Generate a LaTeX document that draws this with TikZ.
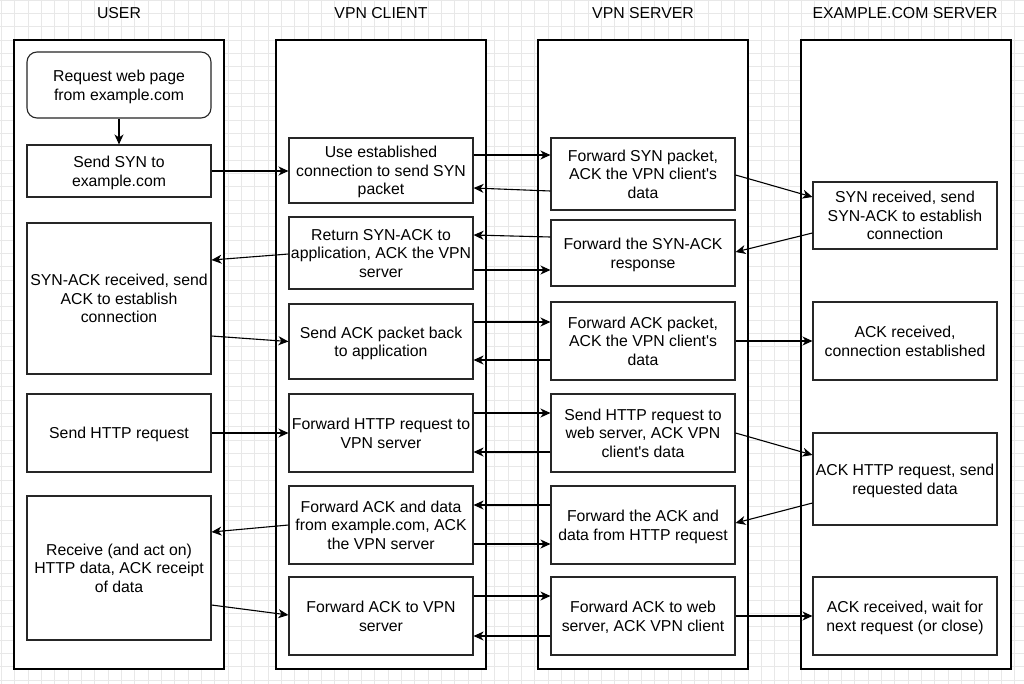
\documentclass[tikz,border=0pt]{standalone}
\usepackage{fontspec}
\setmainfont{Liberation Sans}
\usetikzlibrary{arrows.meta}
\tikzset{
  lane/.style={draw=black, fill=white, line width=1.1pt, minimum width=210pt, minimum height=629pt, inner sep=0pt},
  box/.style={draw=black!85, fill=white, line width=1.1pt, minimum width=184pt, inner sep=0pt, align=center,
    font=\fontsize{15.8}{18.5}\selectfont, text depth=3.5pt},
  one/.style={text height=15pt},
  two/.style={text height=33.5pt},
  three/.style={text height=52pt},
  roundbox/.style={box, rounded corners=10pt},
  title/.style={font=\fontsize{15.8}{18.5}\selectfont, inner sep=0pt},
  conn/.style={draw=black, line width=1.1pt, -{Stealth[length=10pt,width=9pt,inset=3pt]}},
  gridline/.style={draw=black!9, line width=0.6pt}
}
\newcommand{\apos}{\textquotesingle}
\begin{document}
\begin{tikzpicture}[x=1pt,y=-1pt]
\useasboundingbox (0,0) rectangle (1024,683);
\fill[white] (0,0) rectangle (1024,683);
\begin{scope}
\clip (0,0) rectangle (1024,683);
\begin{scope}[shift={(1.3,0)}]
\draw[gridline, step=13.333pt] (-20,-20) grid (1040,700);
\end{scope}
\end{scope}

% titles
\node[title] (t1) at (119,13.5) {USER};
\node[title] (t2) at (381,13.5) {VPN CLIENT};
\node[title] (t3) at (643,13.5) {VPN SERVER};
\node[title] (t4) at (905,13.5) {EXAMPLE.COM SERVER};

% lanes
\node[lane] (L1) at (119,354.5) {};
\node[lane] (L2) at (381,354.5) {};
\node[lane] (L3) at (643,354.5) {};
\node[lane] (L4) at (906,354.5) {};

% user
\node[roundbox, two, minimum height=66pt] (req) at (119,85) {Request web page\\from example.com};
\node[box, two, minimum height=52pt] (syn) at (119,171) {Send SYN to\\example.com};
\node[box, three, minimum height=151pt] (synack) at (119,298.5) {SYN-ACK received, send\\ACK to establish\\connection};
\node[box, one, minimum height=78pt] (http) at (119,433) {Send HTTP request};
\node[box, three, minimum height=144pt] (recv) at (119,568) {Receive (and act on)\\HTTP data, ACK receipt\\of data};

% vpn client
\node[box, three, minimum height=65pt] (c1) at (381,170.5) {Use established\\connection to send SYN\\packet};
\node[box, three, minimum height=72pt] (c2) at (381,253) {Return SYN-ACK to\\application, ACK the VPN\\server};
\node[box, two, minimum height=75pt] (c3) at (381,341.5) {Send ACK packet back\\to application};
\node[box, two, minimum height=78pt] (c4) at (381,433) {Forward HTTP request to\\VPN server};
\node[box, three, minimum height=78pt] (c5) at (381,525) {Forward ACK and data\\from example.com, ACK\\the VPN server};
\node[box, two, minimum height=78pt] (c6) at (381,616) {Forward ACK to VPN\\server};

% vpn server
\node[box, three, minimum height=72pt] (s1) at (643,174) {Forward SYN packet,\\ACK the VPN client\apos s\\data};
\node[box, two, minimum height=66pt] (s2) at (643,253) {Forward the SYN-ACK\\response};
\node[box, three, minimum height=78pt] (s3) at (643,341) {Forward ACK packet,\\ACK the VPN client\apos s\\data};
\node[box, three, minimum height=78pt] (s4) at (643,433) {Send HTTP request to\\web server, ACK VPN\\client\apos s data};
\node[box, two, minimum height=78pt] (s5) at (643,525) {Forward the ACK and\\data from HTTP request};
\node[box, two, minimum height=78pt] (s6) at (643,616) {Forward ACK to web\\server, ACK VPN client};

% example.com server
\node[box, three, minimum height=67pt] (e1) at (905,215.5) {SYN received, send\\SYN-ACK to establish\\connection};
\node[box, two, minimum height=78pt] (e2) at (905,341) {ACK received,\\connection established};
\node[box, two, minimum height=92pt] (e3) at (905,479) {ACK HTTP request, send\\requested data};
\node[box, two, minimum height=78pt] (e4) at (905,616) {ACK received, wait for\\next request (or close)};

% connectors
\draw[conn] (req.south) -- (syn.north);
\draw[conn] (syn.east) -- (syn.east -| c1.west);
\draw[conn] ([yshift=15.5pt]c1.east) -- ([yshift=19pt]s1.west);
\draw[conn] ([yshift=-17pt]s1.west) -- ([yshift=-17.5pt]c1.east);
\draw[conn] ([yshift=-1pt]s1.east) -- ([yshift=18.5pt]e1.west);
\draw[conn] ([yshift=-17.5pt]e1.west) -- ([yshift=1pt]s2.east);
\draw[conn] ([yshift=16pt]s2.west) -- ([yshift=18pt]c2.east);
\draw[conn] ([yshift=-17pt]c2.east) -- ([yshift=-17pt]s2.west);
\draw[conn] ([yshift=-1pt]c2.west) -- ([yshift=38.5pt]synack.east);
\draw[conn] ([yshift=-37.5pt]synack.east) -- (c3.west);
\draw[conn] ([yshift=19.5pt]c3.east) -- ([yshift=19pt]s3.west);
\draw[conn] ([yshift=-19pt]s3.west) -- ([yshift=-18.5pt]c3.east);
\draw[conn] (s3.east) -- (e2.west);
\draw[conn] (http.east) -- (c4.west);
\draw[conn] ([yshift=20pt]c4.east) -- ([yshift=20pt]s4.west);
\draw[conn] ([yshift=-19pt]s4.west) -- ([yshift=-19pt]c4.east);
\draw[conn] (s4.east) -- ([yshift=24pt]e3.west);
\draw[conn] ([yshift=-24pt]e3.west) -- ([yshift=2pt]s5.east);
\draw[conn] ([yshift=20pt]s5.west) -- ([yshift=20pt]c5.east);
\draw[conn] ([yshift=-19pt]c5.east) -- ([yshift=-19pt]s5.west);
\draw[conn] (c5.west) -- ([yshift=36pt]recv.east);
\draw[conn] ([yshift=-37pt]recv.east) -- ([yshift=1pt]c6.west);
\draw[conn] ([yshift=20pt]c6.east) -- ([yshift=20pt]s6.west);
\draw[conn] ([yshift=-20pt]s6.west) -- ([yshift=-20pt]c6.east);
\draw[conn] (s6.east) -- (e4.west);
\end{tikzpicture}
\end{document}
